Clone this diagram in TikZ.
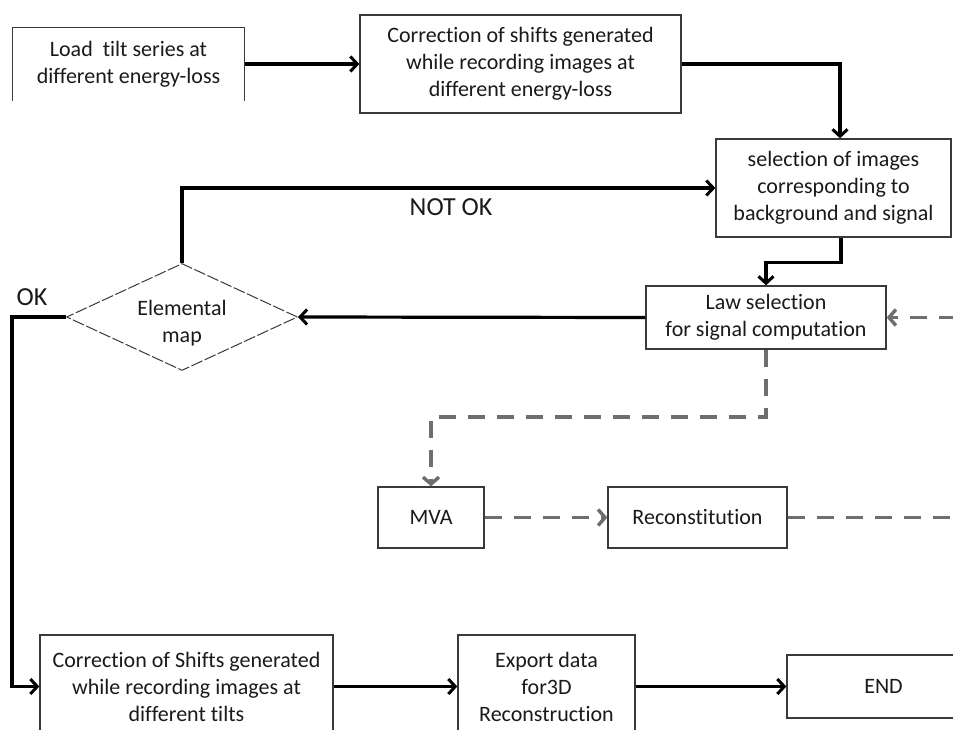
\documentclass[tikz,border=0pt]{standalone}
\usepackage{fontspec}
\setmainfont{Carlito}[Ligatures=NoCommon]
\usetikzlibrary{arrows.meta,shapes.geometric}
\definecolor{boxline}{HTML}{3A3A3A}
\definecolor{dgray}{HTML}{6E6E6E}
\definecolor{txt}{HTML}{1A1A1A}
\tikzset{
  box/.style={draw=boxline, line width=1.3pt, align=center, inner sep=2pt, text=txt,
    font=\fontsize{22}{27}\selectfont},
  arr/.style={line width=3.2pt, -{Straight Barb[length=7pt,width=15pt,line width=3pt]}},
  darr/.style={draw=dgray, line width=3.8pt, dash pattern=on 17pt off 12pt,
    -{Straight Barb[length=7pt,width=16pt,line width=3.4pt]}},
  lbl/.style={font=\fontsize{26}{30}\selectfont, text=txt}
}
\begin{document}
\begin{tikzpicture}[x=1pt,y=-1pt]
\useasboundingbox (0,0) rectangle (953,730);
\clip (0,0) rectangle (953,730);
\fill[white] (0,0) rectangle (953,730);

% top row
\node[box, draw=none, minimum width=231pt, minimum height=72pt] (b1) at (128.5,64) {Load\ \ tilt series at\\different energy-loss};
\draw[boxline, line width=1.3pt] (b1.south west) |- (b1.north east) -- (b1.south east);
\node[box, minimum width=321pt, minimum height=98pt] (b2) at (520.5,64) {Correction of shifts generated\\while recording images at\\different energy-loss};
\node[box, minimum width=235pt, minimum height=98pt] (b3) at (833.5,188) {selection of images\\corresponding to\\background and signal};
\node[box, minimum width=240pt, minimum height=63pt] (b4) at (766,317.5) {Law selection\\for signal computation};

% decision
\node[diamond, draw=boxline, line width=1pt, dash pattern=on 12pt off 2.5pt,
  minimum width=231pt, minimum height=107pt, inner sep=0pt] (dia) at (182,317) {};
\node[align=center, text=txt, inner sep=0pt, font=\fontsize{22}{27}\selectfont] (diat) at (182,323) {Elemental\\map};

% MVA branch
\node[box, minimum width=106pt, minimum height=61pt] (mva) at (431,517.5) {MVA};
\node[box, minimum width=179pt, minimum height=61pt] (rec) at (697.5,517.5) {Reconstitution};

% bottom row
\node[box, minimum width=293pt, minimum height=103pt] (b6) at (186.5,686.5) {Correction of Shifts generated\\while recording images at\\different tilts};
\node[box, minimum width=177pt, minimum height=103pt] (exp) at (546.5,686.5) {Export data\\for3D\\Reconstruction};
\node[box, minimum width=193pt, minimum height=63pt] (end) at (883.5,686.5) {END};

% solid connectors
\draw[arr] (b1.east) -- (b2.west);
\draw[arr] (b2.east) -| ([xshift=6.5pt]b3.north);
\draw[arr] ([xshift=7.5pt]b3.south) -- ++(0,25) -| (b4.north);
\draw[arr] (b4.west) -- (dia.east);
\draw[arr] (dia.north) |- (b3.west);
\coordinate (okc) at (12,317);
\draw[arr] (dia.west) -- (okc) |- (b6.west);
\draw[arr] (b6.east) -- (exp.west);
\draw[arr] (exp.east) -- (end.west);

% labels
\node[lbl] (notok) at (451,207) {NOT OK};
\node[lbl] (ok) at (32,297) {OK};

% dashed connectors
\draw[darr] (b4.south) -- ++(0,67) -| (mva.north);
\draw[darr] (mva.east) -- (rec.west);
\coordinate (rc) at (975,517.5);
\draw[darr] (rec.east) -- (rc) |- (b4.east);
\end{tikzpicture}
\end{document}
